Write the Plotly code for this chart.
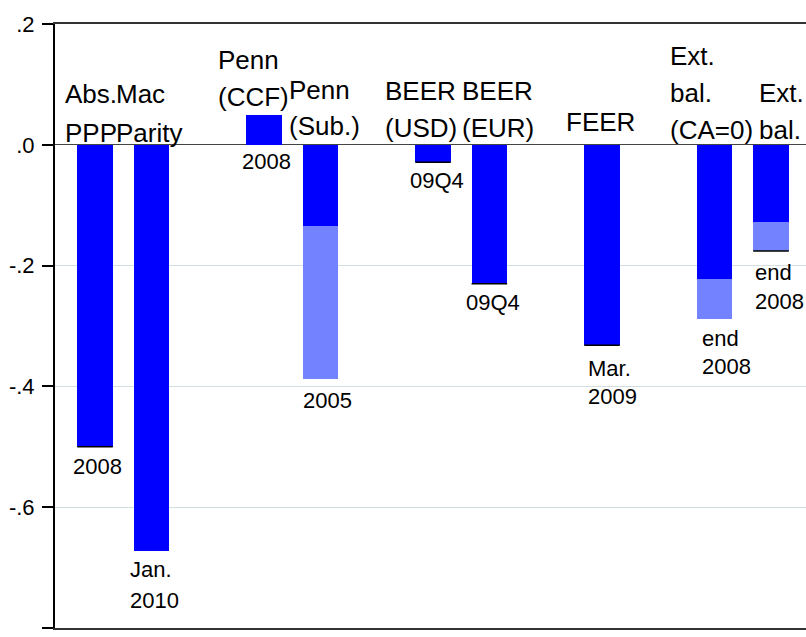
import plotly.graph_objects as go

# ---------------- data ----------------
categories = ["Abs. PPP", "Mac Parity", "Penn (CCF)", "Penn (Sub.)", "BEER (USD)",
              "BEER (EUR)", "FEER", "Ext. bal. (CA=0)", "Ext. bal."]
positions = [0, 1, 3, 4, 6, 7, 9, 11, 12]
low_values = [-0.500, -0.672, 0.050, -0.135, -0.029, -0.230, -0.332, -0.222, -0.127]
high_values = [-0.500, -0.672, 0.050, -0.387, -0.029, -0.230, -0.332, -0.288, -0.176]
end_marked = [True, False, False, False, True, True, True, False, True]
top_labels = [["Abs.", "PPP"], ["Mac", "Parity"], ["Penn", "(CCF)"], ["Penn", "(Sub.)"],
              ["BEER", "(USD)"], ["BEER", "(EUR)"], ["FEER"], ["Ext.", "bal.", "(CA=0)"],
              ["Ext.", "bal."]]
date_labels = [["2008"], ["Jan.", "2010"], ["2008"], ["2005"], ["09Q4"], ["09Q4"],
               ["Mar.", "2009"], ["end", "2008"], ["end", "2008"]]
tick_vals = [0.2, 0.0, -0.2, -0.4, -0.6, -0.8]
tick_text = [".2", ".0", "-.2", "-.4", "-.6", "-.8"]

# ---------------- layout helpers ----------------
W, H = 806, 637
PLOT_L, PLOT_R, PLOT_T, PLOT_B = 55, 806, 24, 628   # page pixels
ML, MR = PLOT_L, W - PLOT_R
MT, MB = PLOT_T, H - PLOT_B
XMIN, XMAX = -0.71, 12.621
YMIN, YMAX = -0.8, 0.2


def px2x(px):
    return XMIN + (px - PLOT_L) * (XMAX - XMIN) / (PLOT_R - PLOT_L)


def py2y(py):
    return YMAX - (py - PLOT_T) * (YMAX - YMIN) / (PLOT_B - PLOT_T)


FONT = "Liberation Sans, Arial, Helvetica, sans-serif"
TOP_SIZE = 26
BOT_SIZE = 22

# text block placement (left edge px, baseline of first line px, line step px)
top_place = [(63, 103, 39), (114, 103, 39), (216, 69, 37), (287, 99, 36), (383, 100, 37),
             (460, 100, 37), (564, 131, 37), (668, 65, 37), (757, 102, 37)]
bot_place = [(71, 474, 30), (128, 577, 31), (240, 169, 28), (301, 408, 28), (408, 188, 28),
             (464, 310, 28), (586, 376, 28), (700, 346, 28), (753, 280, 29)]

fig = go.Figure()

dark = "#0000FF"
light = "#7383FF"
BAR_W = 0.63

fig.add_trace(go.Bar(x=positions, y=low_values, width=BAR_W, marker_color=dark,
                     marker_line_width=0, showlegend=False))
extra = [h - l for h, l in zip(high_values, low_values)]
fig.add_trace(go.Bar(x=positions, y=extra, base=low_values, width=BAR_W, marker_color=light,
                     marker_line_width=0, showlegend=False))
mx = [p for p, m in zip(positions, end_marked) if m]
my = [v for v, m in zip(high_values, end_marked) if m]
bar_px = BAR_W * (PLOT_R - PLOT_L) / (XMAX - XMIN)
fig.add_trace(go.Scatter(x=mx, y=my, mode="markers", showlegend=False, hoverinfo="skip",
                         marker=dict(symbol="line-ew", size=bar_px / 1.4,
                                     line=dict(color="black", width=1.5))))

annotations = []
for lines, (lx, base, step) in zip(top_labels, top_place):
    for i, t in enumerate(lines):
        b = base + i * step
        annotations.append(dict(x=px2x(lx), y=py2y(b - 0.36 * TOP_SIZE), xref="x", yref="y",
                                text=t, showarrow=False, xanchor="left", yanchor="middle",
                                font=dict(family=FONT, size=TOP_SIZE, color="black")))
for lines, (lx, base, step) in zip(date_labels, bot_place):
    for i, t in enumerate(lines):
        b = base + i * step
        annotations.append(dict(x=px2x(lx), y=py2y(b - 0.36 * BOT_SIZE), xref="x", yref="y",
                                text=t, showarrow=False, xanchor="left", yanchor="middle",
                                font=dict(family=FONT, size=BOT_SIZE, color="black")))

fig.update_layout(
    width=W, height=H,
    margin=dict(l=ML, r=MR, t=MT, b=MB, pad=0, autoexpand=False),
    paper_bgcolor="white", plot_bgcolor="white",
    barmode="overlay", bargap=0,
    annotations=annotations,
    font=dict(family=FONT, color="black"),
)
fig.update_xaxes(range=[XMIN, XMAX], showticklabels=False, ticks="", showgrid=False,
                 zeroline=False, showline=True, mirror=True, linecolor="#333333",
                 linewidth=1.5, automargin=False)
fig.update_yaxes(range=[YMIN, YMAX], tickmode="array", tickvals=tick_vals, ticktext=tick_text,
                 ticks="outside", ticklen=11, tickwidth=1.5, tickcolor="black",
                 tickfont=dict(family=FONT, size=22, color="black"), ticklabelstandoff=3,
                 showline=True, linecolor="black", linewidth=2, automargin=False,
                 showgrid=True, gridcolor="#D3DEE2", gridwidth=1,
                 zeroline=True, zerolinecolor="#444444", zerolinewidth=1)

page_css = ("document.body.style.margin='0';document.body.style.padding='0';"
            "document.body.style.overflow='hidden';"
            "document.documentElement.style.overflow='hidden';")
fig.write_html("out.html", post_script=page_css, config={"displayModeBar": False})
